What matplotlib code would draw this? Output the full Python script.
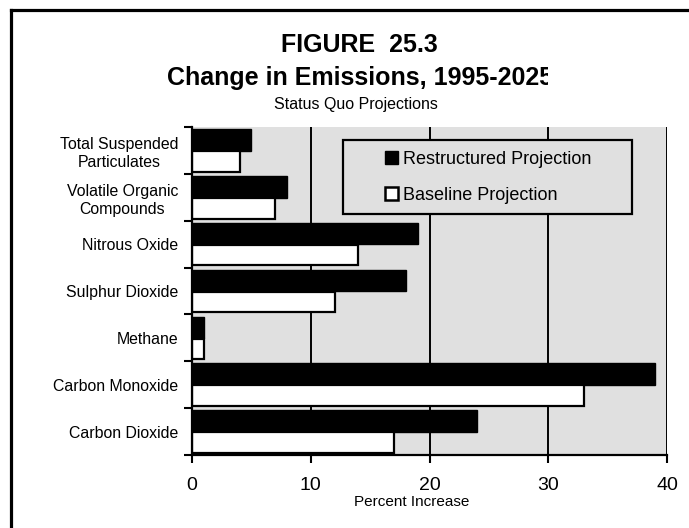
import matplotlib
matplotlib.use("Agg")
import matplotlib.pyplot as plt
import numpy as np
from matplotlib.patches import Patch, Rectangle
from matplotlib.lines import Line2D
from matplotlib.transforms import Bbox, TransformedBbox

plt.rcParams['font.family'] = ['Liberation Sans', 'DejaVu Sans']

categories = ["Total Suspended\nParticulates", "Volatile Organic\nCompounds", "Nitrous Oxide",
              "Sulphur Dioxide", "Methane", "Carbon Monoxide", "Carbon Dioxide"]
restructured = [5, 8, 19, 18, 1, 39, 24]
baseline = [4, 7, 14, 12, 1, 33, 17]
xticks = [0, 10, 20, 30, 40]
series_labels = ["Restructured Projection", "Baseline Projection"]

W, H = 689, 528
fig = plt.figure(figsize=(W / 100, H / 100), dpi=100)
fig.patch.set_facecolor('white')

def fx(px):
    return px / W

def fy(py):
    return 1 - py / H

ax = fig.add_axes([fx(192), fy(455), fx(667) - fx(192), fy(127) - fy(455)])
ax.set_facecolor('#e0e0e0')

y = np.arange(len(categories))
ax.barh(y - 0.225, restructured, height=0.46, color='black', edgecolor='black', linewidth=1.0, zorder=3)
ax.barh(y + 0.235, baseline, height=0.44, color='white', edgecolor='black', linewidth=1.6, zorder=3)

ax.set_xlim(0, 40)
ax.set_ylim(len(categories) - 0.5, -0.5)

ax.set_xticks(xticks)
ax.set_xticklabels([str(v) for v in xticks], fontsize=14)
ax.tick_params(axis='x', direction='out', length=6, width=1.5, pad=10)

ax.set_yticks(np.arange(len(categories) + 1) - 0.5)
ax.set_yticklabels([])
ax.set_yticks(y, minor=True)
ax.set_yticklabels(categories, minor=True, fontsize=11.4, linespacing=1.25, multialignment='center')
ax.tick_params(axis='y', which='major', direction='out', length=6, width=1.5)
ax.tick_params(axis='y', which='minor', length=0, pad=10)

for v in xticks[1:]:
    ax.axvline(v, color='black', linewidth=1.4, zorder=1)

for s in ['top', 'right']:
    ax.spines[s].set_visible(False)
for s in ['left', 'bottom']:
    ax.spines[s].set_linewidth(1.6)
    ax.spines[s].set_zorder(4)

# legend box
rect = Rectangle((fx(343), fy(214)), fx(632) - fx(343), fy(140) - fy(214),
                 transform=fig.transFigure, facecolor='#e0e0e0', edgecolor='black',
                 linewidth=1.6, zorder=5)
ax.add_patch(rect)
handles = [Patch(facecolor='black', edgecolor='black', linewidth=1.0),
           Patch(facecolor='white', edgecolor='black', linewidth=1.8)]
leg = ax.legend(handles, series_labels, loc='upper left',
                bbox_to_anchor=(fx(385), fy(151)), bbox_transform=fig.transFigure,
                frameon=False, fontsize=13, handlelength=0.72, handleheight=0.72,
                handletextpad=0.25, labelspacing=1.05, borderpad=0, borderaxespad=0)
leg.set_zorder(6)

# titles
fig.text(fx(359), fy(45), "FIGURE  25.3", fontsize=18, fontweight='bold', ha='center', va='center')
t = fig.text(fx(360), fy(78), "Change in Emissions, 1995-2025", fontsize=18, fontweight='bold',
             ha='center', va='center')
t.set_clip_box(TransformedBbox(Bbox([[0, 0], [fx(548), 1]]), fig.transFigure))
t.set_clip_on(True)
fig.text(fx(356), fy(104), "Status Quo Projections", fontsize=11.5, ha='center', va='center')
fig.text(fx(412), fy(502), "Percent Increase", fontsize=11, ha='center', va='center')

# outer frame (left and top edges)
fig.add_artist(Line2D([fx(11), fx(11)], [0, fy(10)], transform=fig.transFigure, color='black', linewidth=2.3))
fig.add_artist(Line2D([fx(11), 1], [fy(10), fy(10)], transform=fig.transFigure, color='black', linewidth=2.3))

fig.savefig("out.png", dpi=100)
